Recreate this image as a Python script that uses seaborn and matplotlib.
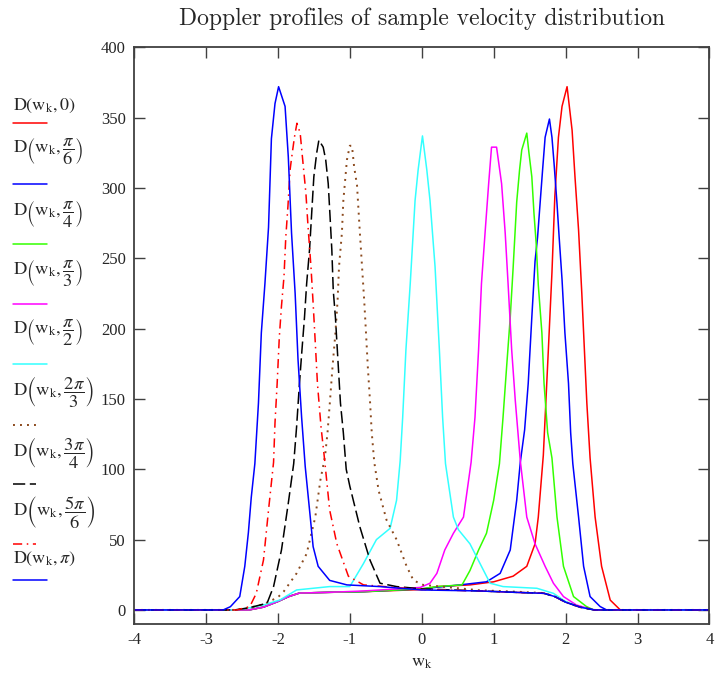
import matplotlib
matplotlib.use("Agg")
import matplotlib.pyplot as plt
import seaborn as sns
from matplotlib.lines import Line2D

sns.set_style("ticks")
plt.rcParams["font.family"] = ["Liberation Serif", "DejaVu Serif"]
plt.rcParams["mathtext.fontset"] = "stix"

# ---------------- data ----------------
x_0 = [-4, -2.4, -2.2, -2.0, -1.85, -1.7, -1.3, -0.8, 0.0, 0.21, 0.67, 1.0, 1.27, 1.46, 1.575,
       1.62, 1.69, 1.76, 1.81, 1.85, 1.90, 1.95, 2.02, 2.09, 2.13, 2.18, 2.225, 2.295, 2.34, 2.41,
       2.50, 2.62, 2.76, 4]
y_0 = [0, 0, 2, 6, 9.5, 12, 12.5, 13, 14.5, 16.6, 17.8, 20, 24, 31, 47,
       66, 110, 185, 240, 294, 336, 358, 372, 341, 308, 270, 225, 147, 108, 66,
       31, 7, 0, 0]

x_pi6 = [-4, -2.4, -2.2, -2.0, -1.85, -1.7, -1.3, -0.8, 0, 0.53, 0.90, 1.09, 1.23, 1.32, 1.37,
         1.43, 1.48, 1.53, 1.575, 1.61, 1.645, 1.68, 1.715, 1.775, 1.81, 1.84, 1.88, 1.91, 1.95,
         1.99, 2.04, 2.07, 2.10, 2.18, 2.25, 2.34, 2.48, 2.57, 4]
y_pi6 = [0, 0, 2, 6, 9.5, 12, 12.5, 13, 15, 17.8, 20, 26, 42.6, 78, 105,
         128, 161, 208, 248, 265, 289, 313, 336, 349, 336, 317, 289, 265, 235,
         197, 161, 126, 104, 66, 31, 9.5, 2.4, 0, 0]

x_pi4 = [-4, -2.4, -2.2, -2.0, -1.85, -1.7, -1.3, -0.8, 0, 0.21, 0.56, 0.67, 0.79, 0.90, 1.0,
         1.08, 1.13, 1.18, 1.23, 1.27, 1.32, 1.36, 1.39, 1.46, 1.49, 1.53, 1.56, 1.59, 1.62,
         1.67, 1.70, 1.75, 1.81, 1.88, 1.97, 2.11, 2.29, 2.39, 4]
y_pi4 = [0, 0, 2, 6, 9.5, 12, 12.5, 13, 15, 16.6, 17.8, 28, 42.6, 54.5, 78,
         104, 137, 173, 208, 243, 290, 313, 327, 339, 325, 308, 282, 261, 231,
         197, 161, 126, 108, 66, 31, 9.5, 2.4, 0, 0]

x_pi3 = [-4, -2.4, -2.2, -2.0, -1.85, -1.7, -1.3, -0.8, -0.02, 0.115, 0.21, 0.32, 0.44, 0.58,
         0.686, 0.74, 0.79, 0.83, 0.88, 0.93, 0.97, 1.04, 1.11, 1.16, 1.20, 1.25, 1.30, 1.37,
         1.46, 1.575, 1.715, 1.83, 1.97, 2.15, 2.39, 4]
y_pi3 = [0, 0, 2, 6, 9.5, 12, 12.5, 13.5, 16, 19, 26, 42.6, 54.5, 66,
         105, 137, 185, 232, 268, 303, 329, 329, 303, 268, 232, 185, 149, 106,
         66, 47, 31, 19, 9.5, 3.5, 0, 0]

x_pi2 = [-4, -2.6, -2.43, -2.2, -1.97, -1.74, -1.28, -1.0, -0.81, -0.63, -0.44, -0.35, -0.30,
         -0.265, -0.22, -0.16, -0.093, -0.05, 0.01, 0.07, 0.115, 0.185, 0.245, 0.29, 0.33, 0.44,
         0.51, 0.67, 0.81, 0.95, 1.13, 1.6, 1.83, 2.0, 2.2, 2.4, 4]
y_pi2 = [0, 0, 1.2, 3.5, 7.1, 14.2, 16.6, 16.6, 33, 50, 58, 78, 106,
         137, 185, 232, 291, 313, 337, 313, 291, 244, 185, 137, 104, 66,
         57, 47, 33, 19, 16.6, 15.4, 11.8, 6, 2, 0, 0]

x_2pi3 = [-4, -2.6, -2.4, -2.2, -2.0, -1.92, -1.74, -1.60, -1.48, -1.41, -1.345, -1.31, -1.275,
          -1.24, -1.20, -1.17, -1.15, -1.11, -1.09, -1.04, -1.0, -0.97, -0.94, -0.90, -0.86,
          -0.83, -0.80, -0.775, -0.75, -0.72, -0.695, -0.66, -0.60, -0.49, -0.35, -0.21, -0.115,
          0.02, 0.8, 1.3, 1.7, 1.85, 2.0, 2.2, 2.4, 4]
y_2pi3 = [0, 0, 1.5, 4, 9, 13, 26, 40, 66, 92, 109, 126, 149,
          173, 197, 220, 244, 268, 291, 320, 330, 330, 315, 302, 268,
          244, 220, 197, 173, 149, 126, 105, 85, 64, 50, 31, 21,
          17.8, 14, 13, 12, 9.5, 5.5, 2, 0, 0]

x_3pi4 = [-4, -2.6, -2.4, -2.15, -2.06, -1.95, -1.855, -1.78, -1.74, -1.70, -1.665, -1.63, -1.60,
          -1.56, -1.53, -1.50, -1.46, -1.43, -1.37, -1.335, -1.30, -1.275, -1.25, -1.23, -1.20,
          -1.16, -1.13, -1.09, -1.05, -1.0, -0.86, -0.72, -0.58, -0.35, 0, 0.8, 1.3, 1.7, 1.85,
          2.0, 2.2, 2.4, 4]
y_3pi4 = [0, 0, 1.5, 4.8, 16.6, 42.6, 76, 104, 130, 161, 185, 208, 232,
          256, 282, 308, 325, 334, 329, 320, 303, 280, 256, 227, 208,
          173, 147, 126, 100, 88, 59, 35.5, 19, 16.6, 15, 13.5, 12.5, 11.8, 9.5,
          5.5, 2, 0, 0]

x_5pi6 = [-4, -2.57, -2.39, -2.30, -2.2, -2.13, -2.06, -2.04, -2.01, -1.98, -1.95, -1.915, -1.89,
          -1.86, -1.83, -1.81, -1.77, -1.735, -1.69, -1.655, -1.61, -1.58, -1.54, -1.51, -1.48,
          -1.45, -1.40, -1.355, -1.28, -1.18, -1.02, -0.81, 0, 0.8, 1.3, 1.7, 1.85, 2.0, 2.2,
          2.4, 4]
y_5pi6 = [0, 0, 2.4, 11.8, 35.5, 71, 105, 133, 161, 194, 216, 237, 265,
          287, 313, 321, 336, 346, 339, 320, 296, 272, 244, 218, 190,
          161, 130, 109, 71, 47, 24, 17.8, 14.5, 13.5, 12.5, 11.8, 9.5, 5.5, 2,
          0, 0]

x_pi = [-4, -2.76, -2.66, -2.53, -2.46, -2.41, -2.37, -2.32, -2.27, -2.23, -2.18, -2.13, -2.09,
        -2.04, -1.99, -1.90, -1.855, -1.81, -1.76, -1.72, -1.67, -1.62, -1.55, -1.51, -1.44,
        -1.28, -1.04, -0.58, 0, 0.8, 1.3, 1.7, 1.85, 2.0, 2.2, 2.4, 4]
y_pi = [0, 0, 2.3, 9.5, 31, 55, 80, 104, 147, 197, 232, 272, 335,
        360, 372, 358, 322, 268, 225, 178, 137, 102, 66, 45, 31,
        21, 17.8, 16.6, 14.2, 13.5, 12.5, 11.8, 9.5, 5.5, 2, 0, 0]

labels = [r"$\mathrm{D}\left(\mathrm{w_k},0\right)$",
          r"$\mathrm{D}\left(\mathrm{w_k},\dfrac{\pi}{6}\right)$",
          r"$\mathrm{D}\left(\mathrm{w_k},\dfrac{\pi}{4}\right)$",
          r"$\mathrm{D}\left(\mathrm{w_k},\dfrac{\pi}{3}\right)$",
          r"$\mathrm{D}\left(\mathrm{w_k},\dfrac{\pi}{2}\right)$",
          r"$\mathrm{D}\left(\mathrm{w_k},\dfrac{2\pi}{3}\right)$",
          r"$\mathrm{D}\left(\mathrm{w_k},\dfrac{3\pi}{4}\right)$",
          r"$\mathrm{D}\left(\mathrm{w_k},\dfrac{5\pi}{6}\right)$",
          r"$\mathrm{D}\left(\mathrm{w_k},\pi\right)$"]
xticks = [-4, -3, -2, -1, 0, 1, 2, 3, 4]
yticks = [0, 50, 100, 150, 200, 250, 300, 350, 400]

# ---------------- styles ----------------
series = [(x_0, y_0), (x_pi6, y_pi6), (x_pi4, y_pi4), (x_pi3, y_pi3), (x_pi2, y_pi2),
          (x_2pi3, y_2pi3), (x_3pi4, y_3pi4), (x_5pi6, y_5pi6), (x_pi, y_pi)]
colors = ["#ff0000", "#0000ff", "#33ff00", "#ff00ff", "#33ffff",
          "#8b4a1e", "#000000", "#ff0000", "#0000ff"]
styles = ["-", "-", "-", "-", "-", (0, (1, 2.6)), (0, (8, 3)), (0, (6, 3, 1, 3)), "-"]
widths = [1.1, 1.1, 1.1, 1.1, 1.1, 1.4, 1.1, 1.1, 1.1]

W, H = 715, 679
fig = plt.figure(figsize=(W / 100, H / 100), dpi=100)
ax = fig.add_axes([134 / W, 1 - 624 / H, (709.5 - 134) / W, (624 - 47.3) / H])

for (xs, ys), c, ls, lw in zip(series, colors, styles, widths):
    sns.lineplot(x=xs, y=ys, ax=ax, color=c, linewidth=lw, sort=False, estimator=None)
    ax.lines[-1].set_linestyle(ls)

ax.set_xlim(-4, 4)
ax.set_ylim(-10, 400)
ax.set_xticks(xticks)
ax.set_yticks(yticks)
ax.set_xticklabels([str(t) for t in xticks])
ax.set_yticklabels([str(t) for t in yticks])
ax.tick_params(direction="in", length=8, width=1.0, color="#404040", labelsize=12,
               top=True, right=True, labeltop=False, labelright=False, pad=6)
for s in ax.spines.values():
    s.set_color("#404040")
    s.set_linewidth(1.3)
ax.set_xlabel(r"$\mathrm{w_k}$", fontsize=13, labelpad=4)
ax.set_ylabel("")

fig.text(421.7 / W, 1 - 19 / H, "Doppler profiles of sample velocity distribution",
         family="cmr10", fontsize=17, ha="center", va="center")

# ---------------- Mathcad-style legend on the left ----------------
label_y = [106, 152, 214, 273, 332, 392, 452, 512, 559]
label_fs = [13, 13.3, 13.3, 13.3, 13.3, 13.3, 13.3, 13.3, 13]
line_y = [123, 184, 244, 304, 364, 425, 484, 544, 580]
line_x1 = [47, 47, 47, 47, 47, 40, 36, 36, 47]
for lab, ly, fs, lly, x1, c, ls, lw in zip(labels, label_y, label_fs, line_y, line_x1,
                                            colors, styles, widths):
    fig.text(13 / W, 1 - ly / H, lab, fontsize=fs, ha="left", va="center")
    fig.add_artist(Line2D([13 / W, x1 / W], [1 - lly / H, 1 - lly / H], color=c,
                          linestyle=ls, linewidth=lw, transform=fig.transFigure))

fig.savefig("out.png", dpi=100)
